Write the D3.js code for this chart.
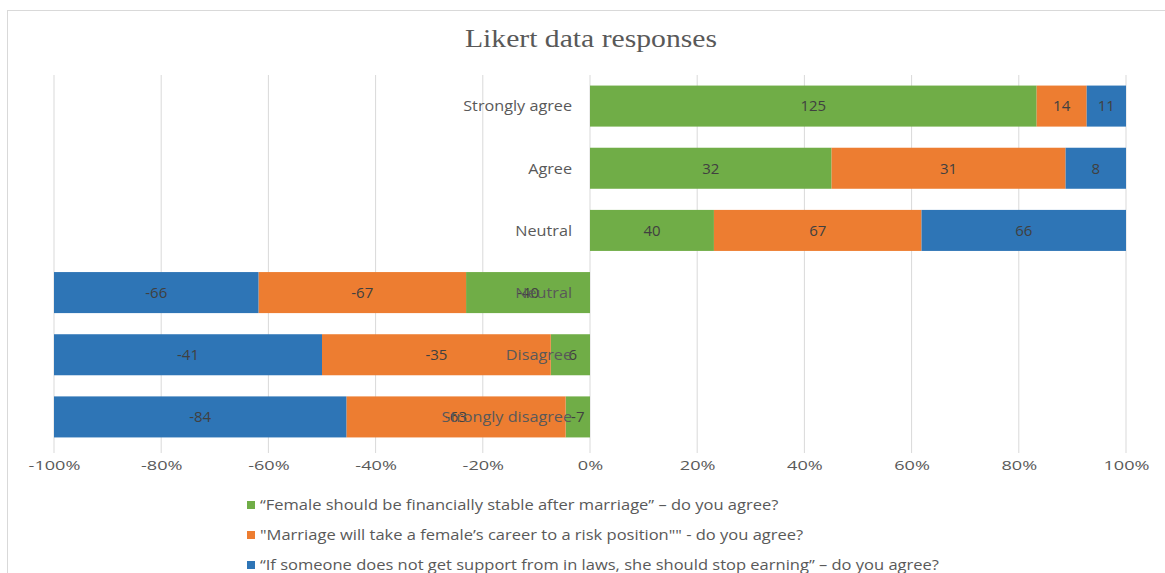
<!DOCTYPE html>
<html>
<head>
<meta charset="utf-8">
<script src="https://cdn.jsdelivr.net/npm/d3@7"></script>
<style>
  body { margin: 0; background: #fff; }
  text { font-family: "Open Sans", sans-serif; }
</style>
</head>
<body>
<div id="chart"></div>
<script>
// row labels, top to bottom (the negative side repeats "Neutral")
let categories = ["Strongly agree", "Agree", "Neutral", "Neutral", "Disagree", "Strongly disagree"]

// series values per row
let financial = [125, 32, 40, -40, -6, -7]
let career = [14, 31, 67, -67, -35, -63]
let support = [11, 8, 66, -66, -41, -84]

let seriesNames = [
    "\u201cFemale should be financially stable after marriage\u201d \u2013 do you agree?",
    "\"Marriage will take a female\u2019s career to a risk position\"\"  - do you agree?",
    "\u201cIf someone does not get support from in laws, she should stop earning\u201d \u2013 do you agree?"
]

let xTicks = [-1, -0.8, -0.6, -0.4, -0.2, 0, 0.2, 0.4, 0.6, 0.8, 1]

let colors = ["#70AD47", "#ED7D31", "#2E75B6"]

let width = 1165, height = 573

let svg = d3.select("#chart").append("svg")
    .attr("width", width)
    .attr("height", height)

// chart frame
svg.append("rect")
    .attr("x", 7.5)
    .attr("y", 10.5)
    .attr("width", 1170)
    .attr("height", 600)
    .attr("fill", "none")
    .attr("stroke", "#d9d9d9")

svg.append("text")
    .attr("x", 591)
    .attr("y", 47)
    .attr("text-anchor", "middle")
    .style("font-family", "'Liberation Serif', 'DejaVu Serif', serif")
    .attr("font-size", 26)
    .attr("textLength", 252)
    .attr("lengthAdjust", "spacingAndGlyphs")
    .attr("fill", "#595959")
    .text("Likert data responses")

let x = d3.scaleLinear().domain([-1, 1]).range([54, 1126])

let y = d3.scaleBand()
    .domain(d3.range(categories.length))
    .range([75, 448])
    .paddingInner(0.34)
    .paddingOuter(0.17)

// gridlines
svg.append("g")
    .selectAll("line")
    .data(xTicks)
    .enter()
    .append("line")
    .attr("x1", d => x(d))
    .attr("x2", d => x(d))
    .attr("y1", 75)
    .attr("y2", 453)
    .attr("stroke", "#d9d9d9")
    .attr("stroke-width", 1)

// stacked segments as share of each row's total
let series = [financial, career, support]
let segments = []
categories.forEach(function(c, i){
    let total = d3.sum(series, s => Math.abs(s[i]))
    let pos = 0
    series.forEach(function(s, k){
        let share = s[i] / total
        segments.push({row: i, k: k, value: s[i], x0: pos, x1: pos + share})
        pos += share
    })
})

let segs = svg.append("g")
    .selectAll("g")
    .data(segments)
    .enter()
    .append("g")

segs.append("rect")
    .attr("x", d => x(Math.min(d.x0, d.x1)))
    .attr("width", d => Math.abs(x(d.x1) - x(d.x0)))
    .attr("y", d => y(d.row))
    .attr("height", y.bandwidth())
    .attr("fill", d => colors[d.k])

// category labels (drawn left of the zero line, overlapping the negative bars)
svg.append("g")
    .selectAll("text")
    .data(categories)
    .enter()
    .append("text")
    .attr("transform", (d, i) => "translate(572," + (y(i) + y.bandwidth() / 2) + ") scale(1.08,1)")
    .attr("dy", "0.35em")
    .attr("text-anchor", "end")
    .attr("font-size", 15)
    .attr("fill", "#595959")
    .text(d => d)

// data labels
segs.append("text")
    .attr("x", d => x((d.x0 + d.x1) / 2))
    .attr("y", d => y(d.row) + y.bandwidth() / 2)
    .attr("dy", "0.35em")
    .attr("text-anchor", "middle")
    .attr("font-size", 15)
    .attr("fill", "#404040")
    .text(d => d.value)

// x axis labels
let xAxis = d3.axisBottom(x)
    .tickValues(xTicks)
    .tickFormat(d => Math.round(d * 100) + "%")
    .tickSize(0)
    .tickPadding(0)

let ax = svg.append("g")
    .attr("transform", "translate(0,461)")
    .call(xAxis)
ax.select(".domain").remove()
ax.selectAll("text")
    .attr("font-size", 12.5)
    .attr("transform", "scale(1.45,1)")
    .attr("fill", "#595959")
    .style("font-family", "'Open Sans', sans-serif")

// legend
let legend = svg.append("g")
    .selectAll("g")
    .data(seriesNames)
    .enter()
    .append("g")
    .attr("transform", (d, i) => "translate(247," + (505 + i * 30) + ")")

legend.append("rect")
    .attr("x", 0)
    .attr("y", -4)
    .attr("width", 8)
    .attr("height", 8)
    .attr("fill", (d, i) => colors[i])

legend.append("text")
    .attr("transform", "translate(13,0) scale(1.18,1)")
    .attr("dy", "0.35em")
    .attr("font-size", 14)
    .attr("fill", "#595959")
    .text(d => d)
</script>
</body>
</html>
